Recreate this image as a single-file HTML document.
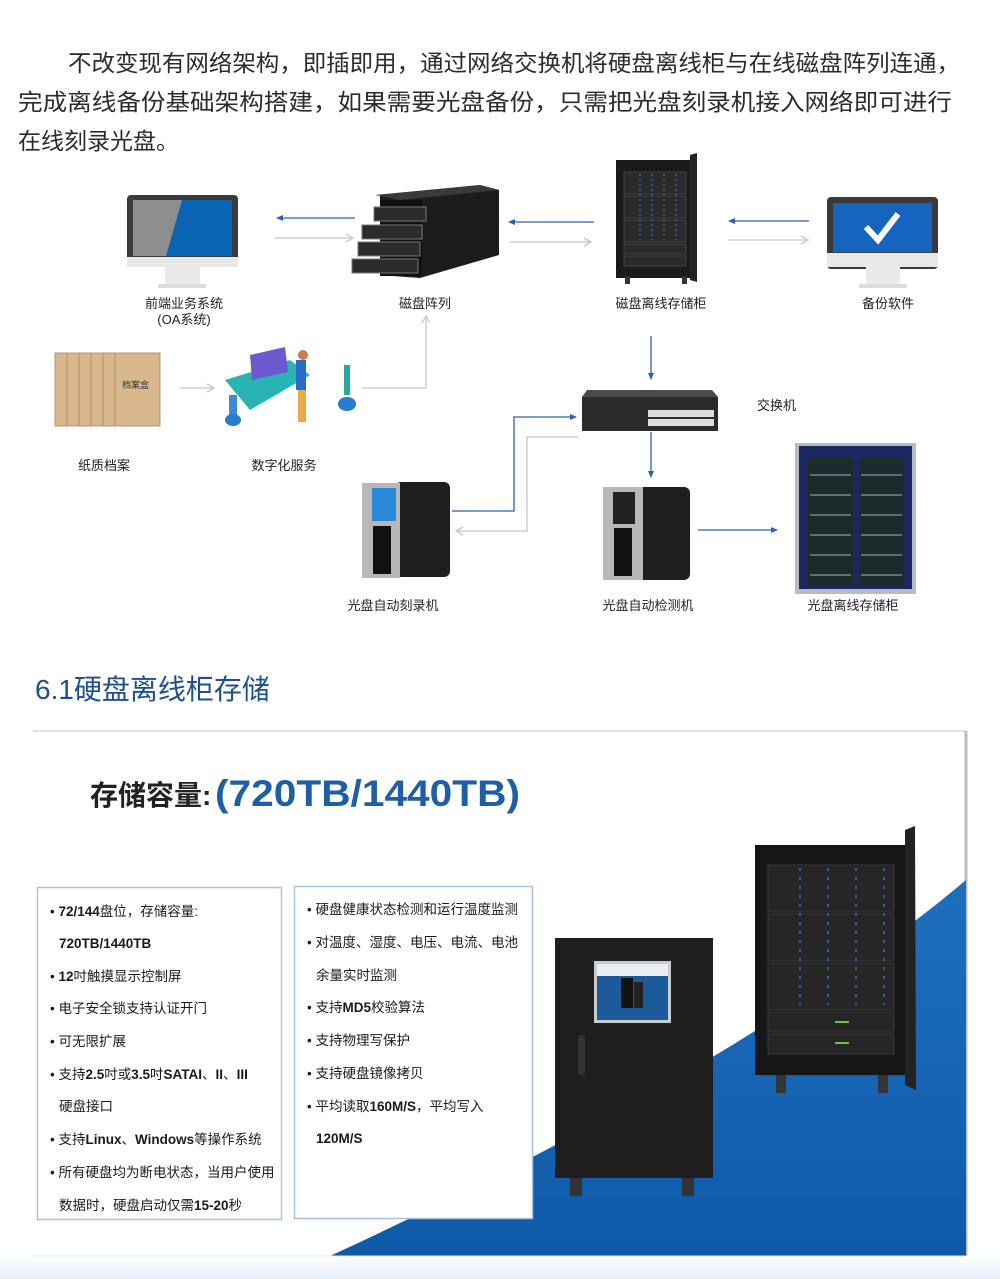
<!DOCTYPE html>
<html><head><meta charset="utf-8"><style>
html,body{margin:0;padding:0;background:#fff;}
svg{display:block}
text{font-family:"Liberation Sans","Noto Sans CJK SC",sans-serif;}
</style></head><body>
<svg width="1000" height="1279" viewBox="0 0 1000 1279" xmlns="http://www.w3.org/2000/svg">
<defs>
<marker id="ab" markerWidth="8" markerHeight="8" refX="6" refY="4" orient="auto" markerUnits="userSpaceOnUse"><path d="M0,1 L7,4 L0,7 z" fill="#2a62b8"/></marker>
<marker id="ag" markerWidth="10" markerHeight="10" refX="8" refY="5" orient="auto" markerUnits="userSpaceOnUse"><path d="M1,1 L8,5 L1,9" fill="none" stroke="#c8c8c8" stroke-width="1.3"/></marker>
<linearGradient id="bg" x1="0" y1="0" x2="0" y2="1"><stop offset="0" stop-color="#1f6fbf"/><stop offset="1" stop-color="#0e5aa8"/></linearGradient>
<linearGradient id="foot" x1="0" y1="0" x2="0" y2="1"><stop offset="0" stop-color="#fff"/><stop offset="1" stop-color="#e6eef8"/></linearGradient>
</defs>

<!-- paragraph -->
<g font-size="23" fill="#2b2b2b">
<text x="68" y="71" textLength="892" lengthAdjust="spacingAndGlyphs">不改变现有网络架构，即插即用，通过网络交换机将硬盘离线柜与在线磁盘阵列连通，</text>
<text x="18" y="110" textLength="934" lengthAdjust="spacingAndGlyphs">完成离线备份基础架构搭建，如果需要光盘备份，只需把光盘刻录机接入网络即可进行</text>
<text x="18" y="149">在线刻录光盘。</text>
</g>

<!-- OA monitor -->
<rect x="127" y="195" width="111" height="70" rx="4" fill="#3a3a3a"/>
<rect x="133" y="200" width="99" height="56" fill="#0a64b4"/>
<polygon points="133,200 182,200 166,256 133,256" fill="#8e8e8e"/>
<rect x="127" y="257" width="111" height="10" fill="#e8e8e8"/>
<rect x="165" y="267" width="35" height="18" fill="#eaeaea"/>
<rect x="158" y="284" width="48" height="4" fill="#dcdcdc"/>
<!-- backup monitor -->
<rect x="827" y="197" width="111" height="72" rx="4" fill="#3a3a3a"/>
<rect x="833" y="203" width="99" height="49" fill="#1565c0"/>
<path d="M866,227 L878,240 L898,214" fill="none" stroke="#fff" stroke-width="6"/>
<rect x="827" y="253" width="111" height="14" fill="#e8e8e8"/>
<rect x="866" y="267" width="34" height="18" fill="#eaeaea"/>
<rect x="859" y="284" width="48" height="4" fill="#dcdcdc"/>

<!-- disk array -->
<polygon points="380,195 480,185 499,190 499,255 420,278 380,275" fill="#1c1c1c"/>
<polygon points="375,195 480,185 499,190 400,200" fill="#3a3a3a"/>
<rect x="380" y="200" width="42" height="76" fill="#111"/>
<g fill="#2b2b2b" stroke="#777" stroke-width="1">
<rect x="374" y="207" width="52" height="14"/><rect x="362" y="225" width="60" height="14"/><rect x="358" y="242" width="62" height="14"/><rect x="352" y="259" width="66" height="14"/>
</g>
<!-- storage cabinet top -->
<rect x="616" y="160" width="80" height="118" fill="#1a1a1a"/>
<polygon points="690,155 697,153 697,282 690,280" fill="#222"/>
<g fill="#2a2a2a" stroke="#444"><rect x="624" y="172" width="62" height="22"/><rect x="624" y="196" width="62" height="22"/><rect x="624" y="220" width="62" height="22"/><rect x="624" y="244" width="62" height="10"/><rect x="624" y="256" width="62" height="10"/></g>
<g stroke="#2f6fd0" stroke-width="1.2" stroke-dasharray="2,3"><line x1="640" y1="174" x2="640" y2="240"/><line x1="652" y1="174" x2="652" y2="240"/><line x1="664" y1="174" x2="664" y2="240"/><line x1="676" y1="174" x2="676" y2="240"/></g>
<rect x="625" y="276" width="5" height="8" fill="#333"/><rect x="682" y="276" width="5" height="8" fill="#333"/>

<!-- top arrows -->
<g stroke-width="1.3" fill="none">
<line x1="355" y1="218" x2="277" y2="218" stroke="#2a62b8" marker-end="url(#ab)"/>
<line x1="275" y1="238" x2="353" y2="238" stroke="#c8c8c8" marker-end="url(#ag)"/>
<line x1="594" y1="222" x2="509" y2="222" stroke="#2a62b8" marker-end="url(#ab)"/>
<line x1="510" y1="242" x2="591" y2="242" stroke="#c8c8c8" marker-end="url(#ag)"/>
<line x1="809" y1="221" x2="729" y2="221" stroke="#2a62b8" marker-end="url(#ab)"/>
<line x1="728" y1="240" x2="808" y2="240" stroke="#c8c8c8" marker-end="url(#ag)"/>
</g>
<g font-size="13" fill="#222" text-anchor="middle">
<text x="184" y="308">前端业务系统</text><text x="184" y="324">(OA系统)</text>
<text x="425" y="308">磁盘阵列</text>
<text x="661" y="308">磁盘离线存储柜</text>
<text x="888" y="308">备份软件</text>
</g>

<!-- paper files -->
<g fill="#d9b88e" stroke="#a8875c" stroke-width="0.8">
<rect x="55" y="353" width="12" height="73"/><rect x="67" y="353" width="12" height="73"/><rect x="79" y="353" width="12" height="73"/><rect x="91" y="353" width="12" height="73"/><rect x="103" y="353" width="12" height="73"/>
<rect x="115" y="353" width="45" height="73"/>
</g>
<text x="122" y="388" font-size="9" fill="#333">档案盒</text>
<!-- digital service illus -->
<polygon points="225,380 290,360 310,375 250,410" fill="#28b3b5"/>
<polygon points="250,355 285,347 288,372 252,380" fill="#6a5acd"/>
<rect x="296" y="360" width="10" height="30" fill="#2a6ac8"/>
<rect x="298" y="390" width="8" height="32" fill="#e8a94a"/>
<circle cx="303" cy="355" r="5" fill="#d07a4a"/>
<rect x="229" y="395" width="8" height="25" fill="#3c8bd9"/><ellipse cx="233" cy="420" rx="8" ry="6" fill="#2a7ad0"/>
<rect x="344" y="365" width="6" height="30" fill="#2aa8a0"/><ellipse cx="347" cy="404" rx="9" ry="7" fill="#2a7ad0"/>
<line x1="180" y1="388" x2="214" y2="388" stroke="#c8c8c8" stroke-width="1.3" marker-end="url(#ag)"/>
<polyline points="362,388 426,388 426,316" fill="none" stroke="#c8c8c8" stroke-width="1.3" marker-end="url(#ag)"/>
<g font-size="13" fill="#222" text-anchor="middle"><text x="104" y="470">纸质档案</text><text x="284" y="470">数字化服务</text></g>

<!-- switch -->
<line x1="651" y1="336" x2="651" y2="379" stroke="#2a62b8" stroke-width="1.3" marker-end="url(#ab)"/>
<polygon points="587,390 712,390 718,397 582,397" fill="#4a4a4a"/>
<rect x="582" y="397" width="136" height="34" fill="#2b2b2b"/>
<g fill="#ddd"><rect x="648" y="410" width="66" height="7"/><rect x="648" y="419" width="66" height="7"/></g>
<text x="757" y="410" font-size="13" fill="#222">交换机</text>
<line x1="651" y1="432" x2="651" y2="477" stroke="#2a62b8" stroke-width="1.3" marker-end="url(#ab)"/>
<polyline points="452,511 514,511 514,417 576,417" fill="none" stroke="#2a62b8" stroke-width="1.3" marker-end="url(#ab)"/>
<polyline points="578,437 527,437 527,531 456,531" fill="none" stroke="#c8c8c8" stroke-width="1.3" marker-end="url(#ag)"/>

<!-- burner -->
<rect x="395" y="482" width="55" height="95" rx="6" fill="#1e1e1e"/>
<rect x="362" y="483" width="38" height="95" fill="#b8b8b8"/>
<rect x="372" y="488" width="24" height="33" fill="#2a8ad8"/>
<rect x="373" y="526" width="18" height="48" fill="#111"/>
<!-- checker -->
<rect x="638" y="487" width="52" height="93" rx="6" fill="#1e1e1e"/>
<rect x="603" y="487" width="40" height="93" fill="#b8b8b8"/>
<rect x="613" y="492" width="22" height="32" fill="#222"/>
<rect x="614" y="528" width="18" height="48" fill="#111"/>
<line x1="698" y1="530" x2="777" y2="530" stroke="#2a62b8" stroke-width="1.3" marker-end="url(#ab)"/>
<!-- optical cabinet -->
<rect x="795" y="443" width="121" height="151" fill="#b5bcc6"/>
<rect x="799" y="446" width="113" height="143" fill="#1a2760"/>
<rect x="808" y="458" width="45" height="127" fill="#1c2a2a"/><rect x="859" y="458" width="45" height="127" fill="#1c2a2a"/>
<g stroke="#8a9a9a" stroke-width="1.2">
<line x1="810" y1="475" x2="851" y2="475"/><line x1="861" y1="475" x2="902" y2="475"/>
<line x1="810" y1="495" x2="851" y2="495"/><line x1="861" y1="495" x2="902" y2="495"/>
<line x1="810" y1="515" x2="851" y2="515"/><line x1="861" y1="515" x2="902" y2="515"/>
<line x1="810" y1="535" x2="851" y2="535"/><line x1="861" y1="535" x2="902" y2="535"/>
<line x1="810" y1="555" x2="851" y2="555"/><line x1="861" y1="555" x2="902" y2="555"/>
<line x1="810" y1="575" x2="851" y2="575"/><line x1="861" y1="575" x2="902" y2="575"/>
</g>
<g font-size="13" fill="#222" text-anchor="middle"><text x="393" y="610">光盘自动刻录机</text><text x="648" y="610">光盘自动检测机</text><text x="853" y="610">光盘离线存储柜</text></g>

<!-- section 6.1 -->
<text x="35" y="699" font-size="28" fill="#1f4f8f" font-family="'Liberation Serif','Noto Serif CJK SC',serif">6.1硬盘离线柜存储</text>
<rect x="0" y="1255" width="1000" height="24" fill="url(#foot)"/>
<line x1="33" y1="731" x2="966" y2="731" stroke="#e2e2e2" stroke-width="2"/>
<line x1="966" y1="731" x2="966" y2="1256" stroke="#bdbdbd" stroke-width="3"/>
<path d="M330,1256 C560,1150 800,1020 966,880 L966,1256 Z" fill="url(#bg)"/>
<line x1="33" y1="1256" x2="966" y2="1256" stroke="#e8e8e8" stroke-width="1"/>

<text x="90" y="805" font-size="28" font-weight="bold" fill="#222" font-family="'Liberation Sans','Noto Sans CJK SC',sans-serif">存储容量:</text>
<text x="215" y="806" font-size="37" font-weight="bold" fill="#1f5fa8" textLength="305" lengthAdjust="spacingAndGlyphs">(720TB/1440TB)</text>

<rect x="37.5" y="887.5" width="244" height="332" fill="#fff" stroke="#a9c2e6" stroke-width="1.5"/>
<rect x="294.5" y="886.5" width="238" height="332" fill="#fff" stroke="#a9c2e6" stroke-width="1.5"/>
<g font-size="13.5" fill="#1a1a1a">
<text x="50" y="916">• <tspan font-weight="bold">72/144</tspan>盘位，存储容量:</text>
<text x="59" y="948" font-weight="bold">720TB/1440TB</text>
<text x="50" y="981">• <tspan font-weight="bold">12</tspan>吋触摸显示控制屏</text>
<text x="50" y="1013">• 电子安全锁支持认证开门</text>
<text x="50" y="1046">• 可无限扩展</text>
<text x="50" y="1079">• 支持<tspan font-weight="bold">2.5</tspan>吋或<tspan font-weight="bold">3.5</tspan>吋<tspan font-weight="bold">SATAI</tspan>、<tspan font-weight="bold">II</tspan>、<tspan font-weight="bold">III</tspan></text>
<text x="59" y="1111">硬盘接口</text>
<text x="50" y="1144">• 支持<tspan font-weight="bold">Linux</tspan>、<tspan font-weight="bold">Windows</tspan>等操作系统</text>
<text x="50" y="1177">• 所有硬盘均为断电状态，当用户使用</text>
<text x="59" y="1210">数据时，硬盘启动仅需<tspan font-weight="bold">15-20</tspan>秒</text>
<text x="307" y="914">• 硬盘健康状态检测和运行温度监测</text>
<text x="307" y="947">• 对温度、湿度、电压、电流、电池</text>
<text x="316" y="980">余量实时监测</text>
<text x="307" y="1012">• 支持<tspan font-weight="bold">MD5</tspan>校验算法</text>
<text x="307" y="1045">• 支持物理写保护</text>
<text x="307" y="1078">• 支持硬盘镜像拷贝</text>
<text x="307" y="1111">• 平均读取<tspan font-weight="bold">160M/S</tspan>，平均写入</text>
<text x="316" y="1143" font-weight="bold">120M/S</text>
</g>

<!-- small cabinet -->
<rect x="555" y="938" width="158" height="240" fill="#1e1e1e"/>
<rect x="594" y="961" width="77" height="62" fill="#ccc"/>
<rect x="597" y="964" width="71" height="56" fill="#1c5a9a"/>
<rect x="597" y="964" width="71" height="12" fill="#e8eef4"/>
<rect x="621" y="978" width="12" height="30" fill="#111"/><rect x="634" y="982" width="9" height="26" fill="#222"/>
<rect x="578" y="1035" width="7" height="40" rx="3" fill="#333"/>
<g fill="#333"><rect x="570" y="1178" width="12" height="18"/><rect x="682" y="1178" width="12" height="18"/></g>
<!-- big cabinet -->
<rect x="755" y="845" width="152" height="230" fill="#161616"/>
<polygon points="905,830 915,826 916,1090 905,1085" fill="#222"/>
<g fill="#262626" stroke="#3a3a3a"><rect x="768" y="865" width="126" height="47"/><rect x="768" y="914" width="126" height="47"/><rect x="768" y="963" width="126" height="47"/><rect x="768" y="1012" width="126" height="20"/><rect x="768" y="1034" width="126" height="20"/></g>
<g stroke="#2f6fd0" stroke-width="1.5" stroke-dasharray="3,6">
<line x1="800" y1="868" x2="800" y2="1005"/><line x1="828" y1="868" x2="828" y2="1005"/><line x1="856" y1="868" x2="856" y2="1005"/><line x1="884" y1="868" x2="884" y2="1005"/>
</g>
<g fill="#6c3"><rect x="835" y="1021" width="14" height="2"/><rect x="835" y="1042" width="14" height="2"/></g>
<g fill="#333"><rect x="776" y="1075" width="10" height="18"/><rect x="878" y="1075" width="10" height="18"/></g>
</svg>
</body></html>
